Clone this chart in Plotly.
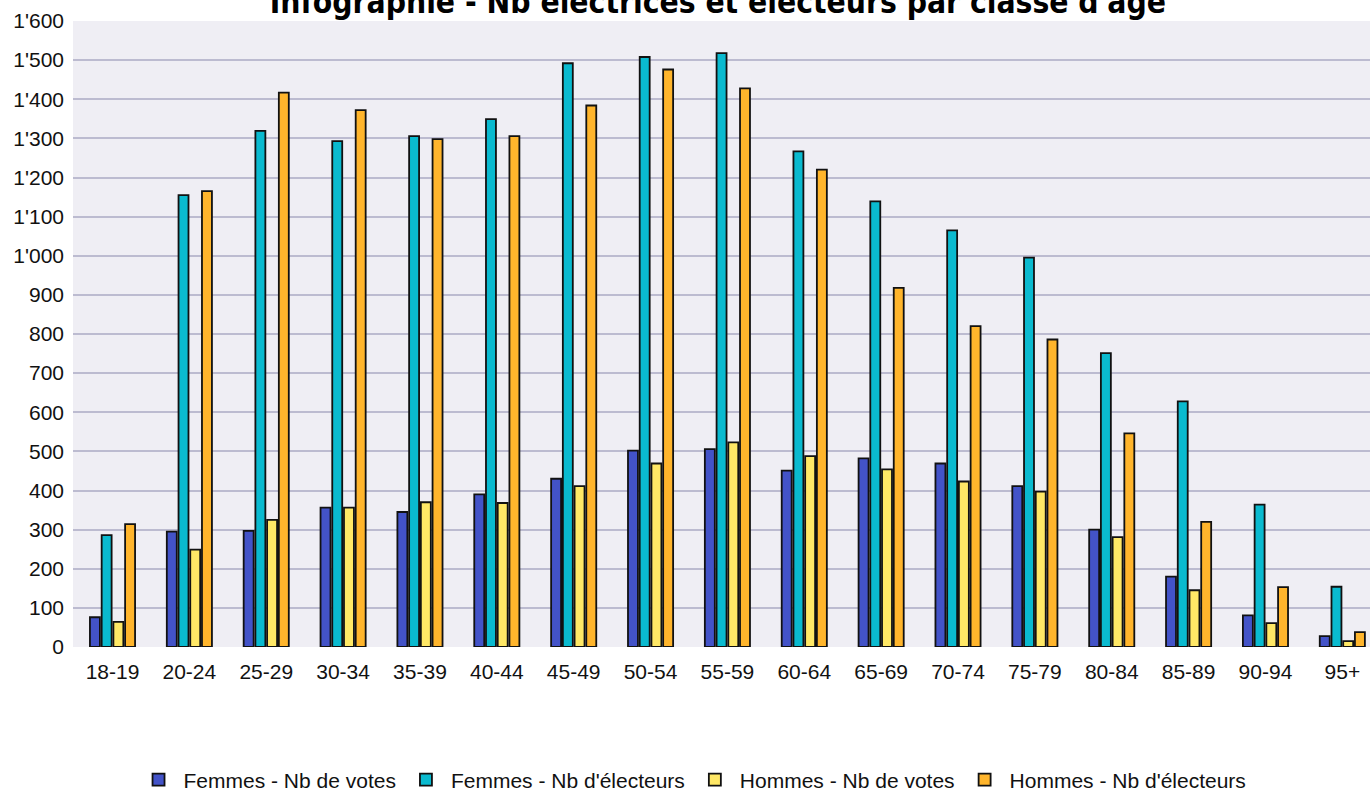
import plotly.graph_objects as go

categories = ["18-19", "20-24", "25-29", "30-34", "35-39", "40-44", "45-49", "50-54",
              "55-59", "60-64", "65-69", "70-74", "75-79", "80-84", "85-89", "90-94", "95+"]

femmes_votes = [76, 295, 297, 356, 345, 390, 430, 502, 506, 451, 482, 469, 411, 300, 180, 81, 28]
femmes_electeurs = [286, 1155, 1319, 1293, 1306, 1349, 1492, 1508, 1518, 1267, 1139, 1065, 995, 751, 628, 364, 154]
hommes_votes = [64, 249, 325, 356, 370, 368, 411, 469, 523, 488, 454, 423, 397, 281, 145, 61, 15]
hommes_electeurs = [314, 1165, 1417, 1372, 1298, 1306, 1384, 1476, 1428, 1220, 918, 820, 786, 546, 320, 153, 38]

series_names = ["Femmes - Nb de votes", "Femmes - Nb d'électeurs",
                "Hommes - Nb de votes", "Hommes - Nb d'électeurs"]
series_values = [femmes_votes, femmes_electeurs, hommes_votes, hommes_electeurs]
series_colors = ["#4353C8", "#0ABACF", "#FFE866", "#FFB52C"]

title_text = "Infographie - Nb électrices et électeurs par classe d'âge"

fig = go.Figure()
for name, vals, col in zip(series_names, series_values, series_colors):
    fig.add_trace(go.Bar(
        x=categories, y=vals, name=name,
        marker=dict(color=col, line=dict(color="#111111", width=1.8)),
    ))

FONT = "Liberation Sans, Arial, sans-serif"

fig.update_layout(
    width=1370, height=791,
    paper_bgcolor="white",
    plot_bgcolor="#EFEEF4",
    separators=".'",
    barmode="group",
    bargap=0.39,
    bargroupgap=0.15,
    margin=dict(l=73, r=0, t=21, b=144, pad=0),
    font=dict(family=FONT, size=21, color="#111111"),
    title=dict(
        text="<b>" + title_text + "</b>",
        font=dict(family="DejaVu Sans Condensed, DejaVu Sans, Verdana, sans-serif", size=31.5, color="#000000"),
        x=0.524, xref="container", xanchor="center",
        y=0.998, yref="container", yanchor="middle",
    ),
    showlegend=True,
    legend=dict(
        orientation="h",
        xref="container", yref="container",
        x=0.5055, xanchor="center",
        y=0.0139, yanchor="middle",
        itemwidth=40,
        font=dict(family=FONT, size=21, color="#111111"),
        bgcolor="rgba(0,0,0,0)",
    ),
    xaxis=dict(
        type="category",
        range=[-0.514, 16.36],
        showgrid=False,
        zeroline=False,
        showline=False,
        ticks="",
        automargin=False,
        ticklabelstandoff=10,
        tickfont=dict(family=FONT, size=21, color="#111111"),
    ),
    yaxis=dict(
        range=[0, 1600],
        dtick=100,
        tickformat=",",
        showgrid=True,
        gridcolor="#BCBBD0",
        gridwidth=2,
        zeroline=False,
        showline=False,
        ticks="",
        automargin=False,
        ticklabelstandoff=8,
        tickfont=dict(family=FONT, size=21, color="#111111"),
    ),
)

fig.write_html(
    "out.html",
    config={"displayModeBar": False},
    post_script="document.body.style.margin='0';document.body.style.overflow='hidden';",
)
